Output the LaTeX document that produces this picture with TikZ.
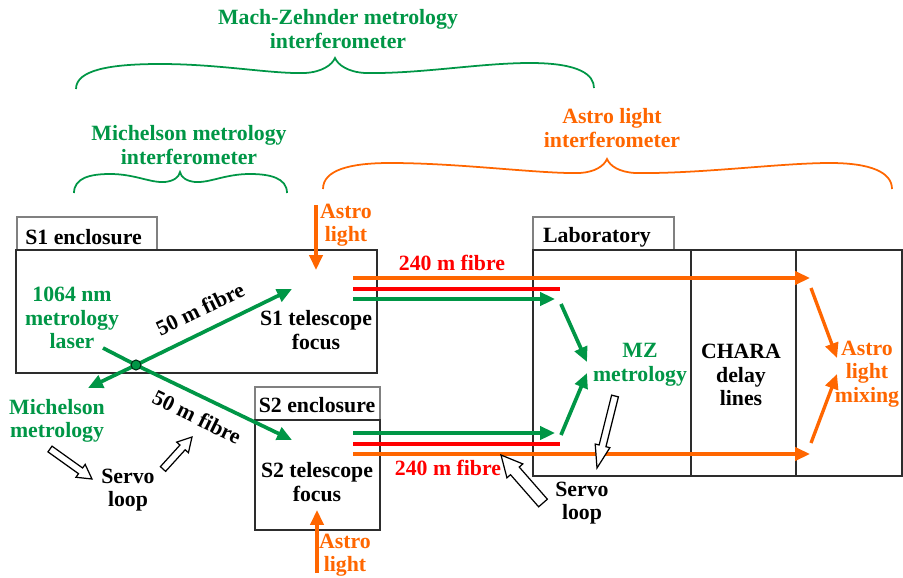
\documentclass[tikz,border=0pt]{standalone}
\usepackage{fontspec}
\setmainfont{Liberation Serif}
\usetikzlibrary{arrows.meta,calc}
\definecolor{mgreen}{RGB}{0,150,70}
\definecolor{morange}{RGB}{255,102,0}
\definecolor{mred}{RGB}{255,0,0}
\definecolor{boxgray}{RGB}{45,45,45}
\newcommand{\hollowarr}[5]{%
  \coordinate (hb) at ($(#2)!#5!(#1)$);
  \draw[hollow] ($(#1)!#3!90:(#2)$) -- ($(hb)!#3!90:(#2)$) -- ($(hb)!#4!90:(#2)$) -- (#2)
    -- ($(hb)!#4!-90:(#2)$) -- ($(hb)!#3!-90:(#2)$) -- ($(#1)!#3!-90:(#2)$) -- cycle;}
\begin{document}
\begin{tikzpicture}[x=0.02cm,y=-0.02cm,
  txt/.style={font=\bfseries\fontsize{12.4}{13.4}\selectfont, align=center, inner sep=0pt},
  gtxt/.style={txt, text=mgreen},
  otxt/.style={txt, text=morange},
  rtxt/.style={txt, text=mred},
  box/.style={draw=boxgray, line width=0.9pt},
  tabbox/.style={draw=gray, line width=0.7pt},
  gline/.style={draw=mgreen, line width=2.1pt},
  garrow/.style={gline, -{Triangle[length=8.5pt,width=7.5pt]}},
  oline/.style={draw=morange, line width=1.9pt},
  oarrow/.style={oline, -{Triangle[length=8.5pt,width=7.5pt]}},
  rline/.style={draw=mred, line width=2.5pt},
  gbrace/.style={draw=mgreen, line width=1pt},
  obrace/.style={draw=morange, line width=1pt},
  hollow/.style={draw=black, fill=white, line width=0.7pt, line join=miter}]
\useasboundingbox (0,0) rectangle (903,578);

% ---- braces and their labels
\node[gtxt] (mzlbl) at (338,29) {Mach-Zehnder metrology\\interferometer};
\draw[gbrace] (76,89) .. controls (76,70) and (110,64) .. (160,64)
  .. controls (220,64) and (270,74) .. (305,73) .. controls (322,72) and (332,65) .. (335,58)
  .. controls (338,65) and (348,72) .. (365,73) .. controls (420,74) and (480,63) .. (530,63)
  .. controls (580,63) and (594,75) .. (594,88);
\node[gtxt] (mlbl) at (189,145) {Michelson metrology\\interferometer};
\draw[gbrace] (74,193) .. controls (74,178) and (90,174) .. (110,174)
  .. controls (135,174) and (150,183) .. (165,182) .. controls (174,181) and (179,177) .. (180,172)
  .. controls (181,177) and (186,181) .. (195,182) .. controls (210,183) and (225,174) .. (250,174)
  .. controls (270,174) and (287,178) .. (287,193);
\node[otxt] (albl) at (612,128) {Astro light\\interferometer};
\draw[obrace] (323,189) .. controls (323,170) and (350,163) .. (390,163)
  .. controls (460,163) and (540,174) .. (580,173) .. controls (595,172) and (604,166) .. (607,159)
  .. controls (610,166) and (619,172) .. (635,173) .. controls (700,174) and (780,163) .. (830,163)
  .. controls (870,163) and (892,172) .. (892,189);

% ---- enclosures
\draw[tabbox] (17,250) rectangle (157,217);
\draw[box] (16,250) rectangle (377,373);
\node[txt, anchor=west] (s1enc) at (25,237) {S1 enclosure};
\draw[tabbox] (255,420) rectangle (380,387);
\draw[box] (255,420) rectangle (380,530);
\node[txt] (s2enc) at (317,405) {S2 enclosure};
\draw[tabbox] (533,250) rectangle (674,217);
\draw[box] (533,250) rectangle (902,476);
\draw[box] (691,250) -- (691,476);
\draw[box] (796,250) -- (796,476);
\node[txt] (lab) at (597,237) {Laboratory};

% ---- texts
\node[gtxt] (laser) at (72,318) {1064 nm\\metrology\\laser};
\node[txt] (s1tel) at (316,330) {S1 telescope\\focus};
\node[txt] (s2tel) at (317,482) {S2 telescope\\focus};
\node[otxt] (astro1) at (346,225) {Astro\\light};
\node[otxt] (astro2) at (345,555) {Astro\\light};
\node[rtxt] (f240a) at (452,263) {240 m fibre};
\node[rtxt] (f240b) at (448,468) {240 m fibre};
\node[gtxt] (mz) at (640,365) {MZ\\metrology};
\node[txt] (chara) at (741,375) {CHARA\\delay\\lines};
\node[otxt] (mix) at (867,374) {Astro\\light\\mixing};
\node[gtxt] (mich) at (57,421) {Michelson\\metrology};
\node[txt] (servo1) at (128,490) {Servo\\loop};
\node[txt] (servo2) at (582,503) {Servo\\loop};
\node[txt, rotate=26] (f50a) at (200,309) {50 m fibre};
\node[txt, rotate=-26] (f50b) at (197,417) {50 m fibre};

% ---- coordinates
\coordinate (dot) at (136,365);
\coordinate (lstart) at (103,348);
\coordinate (s1tip) at (292,289);
\coordinate (s2tip) at (292,440);
\coordinate (michtip) at (88,388);
\coordinate (a1s) at (316,205);
\coordinate (a1e) at (316,270);
\coordinate (a2s) at (317,573);
\coordinate (a2e) at (317,510);
\coordinate (fs1o) at (353,278); \coordinate (fe1o) at (810,278);
\coordinate (fs1r) at (353,289); \coordinate (fe1r) at (560,289);
\coordinate (fs1g) at (353,299); \coordinate (fe1g) at (555,299);
\coordinate (fs2g) at (353,433); \coordinate (fe2g) at (555,433);
\coordinate (fs2r) at (353,444); \coordinate (fe2r) at (560,444);
\coordinate (fs2o) at (353,454); \coordinate (fe2o) at (810,454);
\coordinate (mz1s) at (561,304); \coordinate (mz1e) at (587,362);
\coordinate (mz2s) at (561,435); \coordinate (mz2e) at (587,373);
\coordinate (mx1s) at (811,288); \coordinate (mx1e) at (837,358);
\coordinate (mx2s) at (811,443); \coordinate (mx2e) at (837,374);

% ---- Michelson fibres
\draw[gline] (lstart) -- (dot);
\draw[garrow] (dot) -- (s2tip);
\draw[garrow] (dot) -- (s1tip);
\draw[garrow] (dot) -- (michtip);
\draw[fill=mgreen, draw=black!70!mgreen, line width=0.6pt] (dot) circle (5);

% ---- astro light inputs
\draw[oarrow] (a1s) -- (a1e);
\draw[oarrow] (a2s) -- (a2e);

% ---- 240 m fibres
\draw[oarrow] (fs1o) -- (fe1o);
\draw[rline] (fs1r) -- (fe1r);
\draw[garrow] (fs1g) -- (fe1g);
\draw[garrow] (fs2g) -- (fe2g);
\draw[rline] (fs2r) -- (fe2r);
\draw[oarrow] (fs2o) -- (fe2o);

% ---- combining
\draw[garrow] (mz1s) -- (mz1e);
\draw[garrow] (mz2s) -- (mz2e);
\draw[oarrow] (mx1s) -- (mx1e);
\draw[oarrow] (mx2s) -- (mx2e);

% ---- servo arrows
\coordinate (h1a) at (50,449); \coordinate (h1b) at (92,479);
\coordinate (h2a) at (163,469); \coordinate (h2b) at (192,437);
\coordinate (h3a) at (615,396); \coordinate (h3b) at (597,468);
\coordinate (h4a) at (543,503); \coordinate (h4b) at (501,455);
\hollowarr{h1a}{h1b}{2pt}{4.5pt}{8pt}
\hollowarr{h2a}{h2b}{2pt}{4.5pt}{8pt}
\hollowarr{h3a}{h3b}{2pt}{4.3pt}{13pt}
\hollowarr{h4a}{h4b}{3.3pt}{6pt}{12pt}
\end{tikzpicture}
\end{document}
